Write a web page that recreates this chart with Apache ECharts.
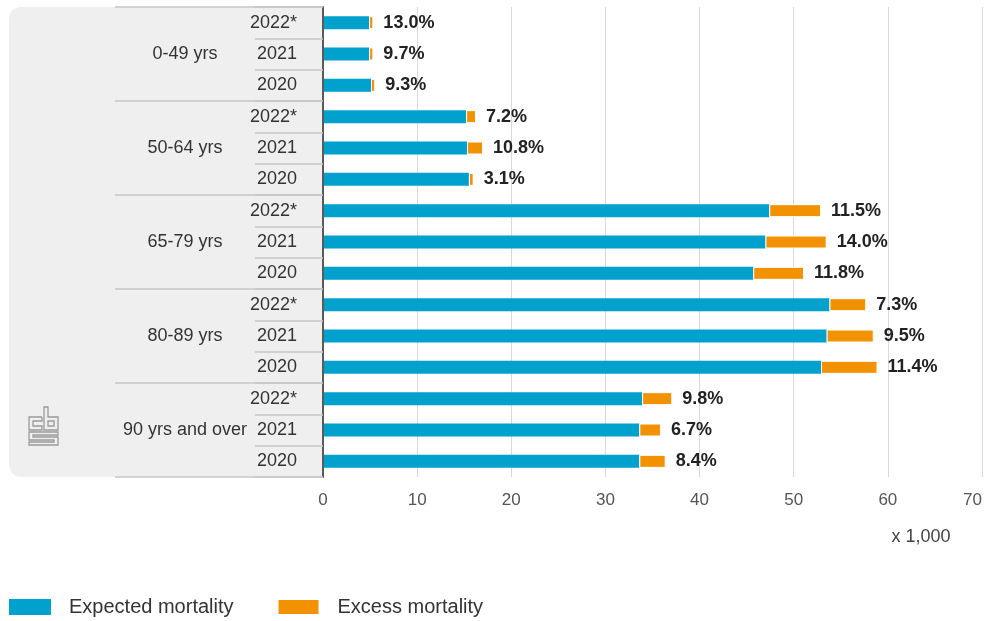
<!DOCTYPE html>
<html>
<head>
<meta charset="utf-8">
<script src="https://cdn.jsdelivr.net/npm/echarts@6/dist/echarts.min.js"></script>
<style>
html,body{margin:0;padding:0;background:#fff;}
#chart{width:986px;height:621px;}
</style>
</head>
<body>
<div id="chart"></div>
<script>
const groups = ['0-49 yrs', '50-64 yrs', '65-79 yrs', '80-89 yrs', '90 yrs and over'];
const years = ['2022*', '2021', '2020', '2022*', '2021', '2020', '2022*', '2021', '2020', '2022*', '2021', '2020', '2022*', '2021', '2020'];
const expected = [4.9, 4.9, 5.1, 15.2, 15.3, 15.5, 47.4, 47.0, 45.7, 53.8, 53.5, 52.9, 33.9, 33.6, 33.6];
const excess = [0.45, 0.45, 0.45, 1.05, 1.7, 0.5, 5.5, 6.5, 5.4, 3.9, 5.0, 6.0, 3.2, 2.3, 2.8];
const percent = ['13.0%', '9.7%', '9.3%', '7.2%', '10.8%', '3.1%', '11.5%', '14.0%', '11.8%', '7.3%', '9.5%', '11.4%', '9.8%', '6.7%', '8.4%'];
const xTicks = [0, 10, 20, 30, 40, 50, 60, 70];

const chart = echarts.init(document.getElementById('chart'), null, {renderer: 'canvas'});
const FONT = 'Liberation Sans, Arial, sans-serif';
const LOGO = {stroke: '#9a9a9a', lineWidth: 1.3, fill: null};

const option = {
  animation: false,
  textStyle: {fontFamily: FONT},
  grid: {left: 323, right: 4, top: 7, bottom: 144, containLabel: false},
  xAxis: {
    type: 'value',
    min: xTicks[0],
    max: xTicks[xTicks.length - 1],
    interval: 10,
    axisLine: {show: false},
    axisTick: {show: false},
    axisLabel: {color: '#555', fontSize: 17, margin: 15, alignMaxLabel: 'right', fontFamily: FONT},
    splitLine: {lineStyle: {color: '#d9d9d9', width: 1}}
  },
  yAxis: [
    {
      type: 'category',
      inverse: true,
      data: years,
      position: 'left',
      axisLine: {show: true, lineStyle: {color: '#5a5a5a', width: 2}},
      axisTick: {show: true, length: 68, lineStyle: {color: '#c6c6c6', width: 1.5}},
      axisLabel: {color: '#333', fontSize: 18, margin: 26, align: 'right', fontFamily: FONT},
      z: 3
    },
    {
      type: 'category',
      inverse: true,
      data: groups,
      position: 'left',
      axisLine: {show: false},
      axisTick: {show: true, length: 208, lineStyle: {color: '#c6c6c6', width: 1.5}},
      axisLabel: {color: '#333', fontSize: 18, margin: 138, align: 'center', fontFamily: FONT},
      z: 2
    }
  ],
  legend: {
    left: 9,
    top: 597,
    padding: 0,
    itemWidth: 42,
    itemHeight: 16,
    itemGap: 43,
    icon: 'rect',
    textStyle: {color: '#333', fontSize: 20, fontFamily: FONT, padding: [0, 0, 0, 13]},
    data: ['Expected mortality', 'Excess mortality']
  },
  series: [
    {
      name: 'Expected mortality',
      type: 'bar',
      stack: 'total',
      yAxisIndex: 0,
      barWidth: 13,
      itemStyle: {color: '#00a1cd'},
      data: expected
    },
    {
      name: 'Excess mortality',
      type: 'bar',
      stack: 'total',
      yAxisIndex: 0,
      barWidth: 13,
      itemStyle: {color: '#f39200', borderColor: '#ffffff', borderWidth: 1},
      label: {
        show: true,
        position: 'right',
        distance: 10,
        color: '#222',
        fontSize: 18,
        fontWeight: 'bold',
        fontFamily: FONT,
        formatter: p => percent[p.dataIndex]
      },
      data: excess
    }
  ],
  graphic: [
    {
      type: 'rect',
      z: -10,
      shape: {x: 9, y: 7, width: 314, height: 470, r: [12, 0, 0, 12]},
      style: {fill: '#efefef'}
    },
    {
      type: 'text',
      x: 921,
      y: 537,
      style: {text: 'x 1,000', fill: '#444', fontSize: 18, fontFamily: FONT, textAlign: 'center', textVerticalAlign: 'middle'}
    },
    {
      type: 'group',
      x: 29,
      y: 407,
      children: [
        {type: 'polyline', shape: {points: [[13, 10], [0, 10], [0, 23], [13, 23], [13, 19], [4, 19], [4, 14], [13, 14], [13, 10]]}, style: LOGO},
        {type: 'polygon', shape: {points: [[15, 0], [19, 0], [19, 10], [29, 10], [29, 23], [15, 23]]}, style: LOGO},
        {type: 'polygon', shape: {points: [[19, 14], [25, 14], [25, 19], [19, 19]]}, style: LOGO},
        {type: 'polygon', shape: {points: [[0, 25], [29, 25], [29, 28], [4, 28], [4, 30], [29, 30], [29, 38], [0, 38], [0, 35], [25, 35], [25, 33], [0, 33]]}, style: LOGO}
      ]
    }
  ]
};
chart.setOption(option);
</script>
</body>
</html>
